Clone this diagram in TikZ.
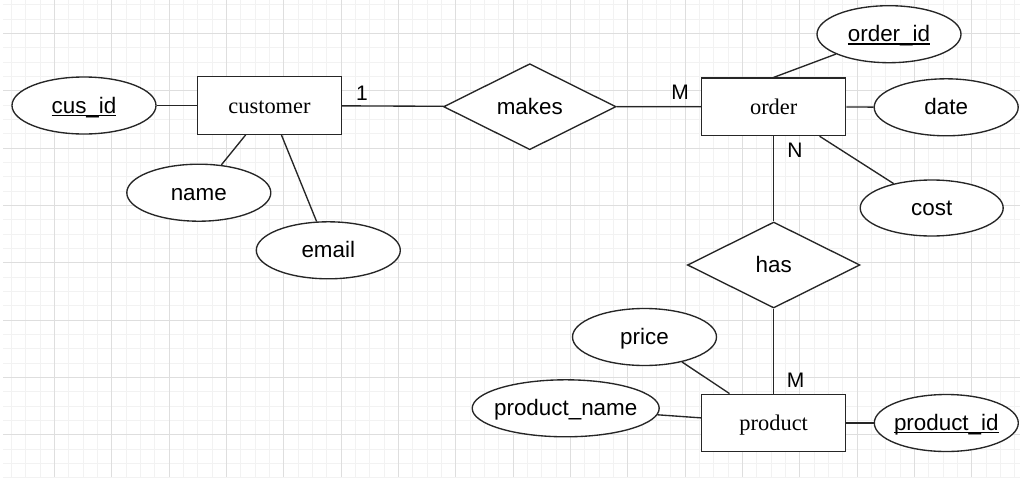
\documentclass[tikz,border=0pt]{standalone}
\usepackage{fontspec}
\setmainfont{Liberation Sans}
\newfontfamily\entityfont{Liberation Serif}
\usetikzlibrary{shapes.geometric}

% underlined key attribute
\newcommand\keyattr[1]{\setbox0\hbox{#1}\rlap{\rule[-2.8pt]{\wd0}{1.3pt}}\box0}
% text that does not widen its shape
\newcommand\zw[1]{\makebox[0pt]{#1}}

\tikzset{
  minorgrid/.style={draw=black!5, line width=0.9pt},
  majorgrid/.style={draw=black!13, line width=0.9pt},
  conn/.style={draw=black!85, line width=1.35pt},
  txt/.style={text height=15.2pt, text depth=0pt},
  attr/.style={ellipse, draw=black!85, line width=1.35pt, fill=white,
    minimum width=144pt, minimum height=57pt, inner sep=0pt, txt,
    font=\fontsize{22.4}{26}\selectfont},
  entity/.style={rectangle, draw=black!85, line width=1.35pt, fill=white,
    minimum width=144pt, minimum height=57.5pt, inner sep=0pt, txt,
    font=\entityfont\fontsize{22.4}{26}\selectfont},
  rel/.style={diamond, draw=black!85, line width=1.35pt, fill=white,
    minimum width=172.5pt, minimum height=86pt, inner sep=0pt, txt,
    font=\fontsize{22.4}{26}\selectfont},
  card/.style={inner sep=0pt, font=\fontsize{21}{24}\selectfont}
}

\begin{document}
\begin{tikzpicture}[x=1pt, y=-1pt]
\useasboundingbox (0,0) rectangle (1020,477);
\fill[white] (0,0) rectangle (1020,477);

% background grid
\foreach \i in {1,...,72} {
  \draw[minorgrid] ({-3+14.333*\i},0) -- ({-3+14.333*\i},477);
}
\foreach \j in {0,...,33} {
  \draw[minorgrid] (3,{4.67+14.333*\j}) -- (1020,{4.67+14.333*\j});
}
\foreach \i in {1,...,18} {
  \draw[majorgrid] ({-3+57.333*\i},0) -- ({-3+57.333*\i},477);
}
\foreach \j in {0,...,8} {
  \draw[majorgrid] (3,{33.33+57.333*\j}) -- (1020,{33.33+57.333*\j});
}

% entities
\node[entity] (customer) at (269.5,105.5) {customer};
\node[entity] (order)    at (773.7,106.8) {order};
\node[entity] (product)  at (773.7,423)   {product};

% relationships
\node[rel] (makes) at (529.8,106.7) {\zw{makes}};
\node[rel] (has)   at (773.7,265)   {\zw{has}};

% attributes
\node[attr] (cusid)   at (84,105.5)    {\zw{\keyattr{cus\_id}}};
\node[attr] (name)    at (198.8,192.7) {\zw{name}};
\node[attr] (email)   at (328.3,250.3) {\zw{email}};
\node[attr] (orderid) at (889,34.2)    {\zw{\keyattr{order\_id}}};
\node[attr] (date)    at (946.2,107.3) {\zw{date}};
\node[attr, minimum width=143pt, minimum height=56pt] (cost) at (931.7,208) {\zw{cost}};
\node[attr] (price)   at (644.5,337)   {\zw{price}};
\node[attr, minimum width=187pt] (pname) at (565.7,408.3) {\zw{product\_name}};
\node[attr] (pid)     at (946.3,423)   {\zw{\keyattr{product\_id}}};

% connectors
\draw[conn] (cusid) -- (customer);
\draw[conn] (customer) -- (name);
\draw[conn] (customer) -- (email);
\draw[conn] (customer) -- (makes);
\draw[conn] (makes) -- (order);
\draw[conn] (order.north) -- (orderid);
\draw[conn] (order) -- (date);
\draw[conn] (order) -- (cost);
\draw[conn] (order) -- (has);
\draw[conn] (has) -- (product);
\draw[conn] (price) -- (product);
\draw[conn] (pname) -- (product);
\draw[conn] (product) -- (pid);

% cardinalities
\node[card] (c1) at (362,93)    {1};
\node[card] (c2) at (680,92)    {M};
\node[card] (c3) at (795,150.7) {N};
\node[card] (c4) at (795.7,380.7) {M};
\end{tikzpicture}
\end{document}
